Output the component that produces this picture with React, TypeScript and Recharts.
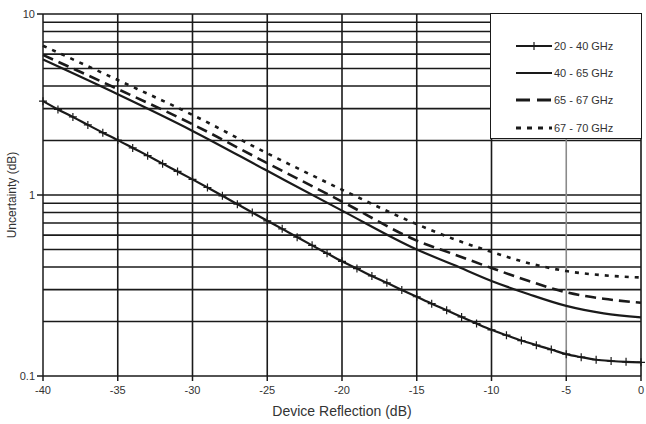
import React from 'react';
import { LineChart, Line, XAxis, YAxis, ReferenceLine, Label } from 'recharts';

// Device reflection (dB) for the marked 20-40 GHz curve (one marker per dB)
const reflectionDb = [
  -40, -39, -38, -37, -36, -35, -34, -33, -32, -31, -30, -29, -28, -27, -26, -25, -24, -23, -22, -21,
  -20, -19, -18, -17, -16, -15, -14, -13, -12, -11, -10, -9, -8, -7, -6, -5, -4, -3, -2, -1, 0,
];
const band20to40 = [
  3.3, 2.97, 2.7, 2.44, 2.21, 2.01, 1.82, 1.65, 1.49, 1.35, 1.22, 1.1, 0.99, 0.89, 0.8, 0.72, 0.65,
  0.585, 0.527, 0.476, 0.43, 0.392, 0.357, 0.327, 0.299, 0.274, 0.251, 0.231, 0.212, 0.195, 0.18,
  0.168, 0.157, 0.148, 0.14, 0.132, 0.127, 0.123, 0.121, 0.1197, 0.119,
];

// Reflection (dB) for the unmarked curves
const coarseDb = [-40, -35, -30, -25, -20, -15, -12.5, -10, -7.5, -5, -2.5, 0];
const band40to65 = [5.6, 3.6, 2.26, 1.36, 0.82, 0.5, 0.41, 0.335, 0.283, 0.244, 0.222, 0.211];
const band65to67 = [5.94, 3.85, 2.46, 1.5, 0.92, 0.56, 0.47, 0.395, 0.335, 0.29, 0.267, 0.254];
const band67to70 = [6.68, 4.32, 2.77, 1.7, 1.07, 0.69, 0.57, 0.485, 0.42, 0.38, 0.36, 0.35];

const seriesNames = ['20 - 40 GHz', '40 - 65 GHz', '65 - 67 GHz', '67 - 70 GHz'];

const xTicks = [-40, -35, -30, -25, -20, -15, -10, -5, 0];
const yTicks = [0.1, 1, 10];
const yGridValues = [
  0.2, 0.3, 0.4, 0.5, 0.6, 0.7, 0.8, 0.9, 1, 2, 3, 4, 5, 6, 7, 8, 9, 10,
];
const xGridValues = [-35, -30, -25, -20, -15, -10, -5, 0];
const lightGridX = [-5];

const data20 = reflectionDb.map((x, i) => ({ x, y: band20to40[i] }));
const data40 = coarseDb.map((x, i) => ({ x, y: band40to65[i] }));
const data65 = coarseDb.map((x, i) => ({ x, y: band65to67[i] }));
const data67 = coarseDb.map((x, i) => ({ x, y: band67to70[i] }));

const FONT = '"Liberation Sans", Arial, sans-serif';
const INK = '#1a1a1a';

const PlusDot = (props: any) => {
  const { cx, cy, index } = props;
  if (cx == null || cy == null) return <g key={`pd-${index}`} />;
  return (
    <path
      key={`pd-${index}`}
      d={`M${cx - 4},${cy}h8M${cx},${cy - 4}v8`}
      stroke={INK}
      strokeWidth={1.2}
      fill="none"
    />
  );
};

const legendStyles = [
  { dash: undefined, marker: true, width: 2 },
  { dash: undefined, marker: false, width: 2 },
  { dash: '14 7', marker: false, width: 3 },
  { dash: '5 6', marker: false, width: 3 },
];

export default function App() {
  return (
    <div
      style={{
        position: 'fixed',
        left: 0,
        top: 0,
        width: 646,
        height: 424,
        overflow: 'hidden',
        background: '#fff',
      }}
    >
      <LineChart width={646} height={424} margin={{ top: 14, right: 5, bottom: 0, left: 0 }}>
        <XAxis
          dataKey="x"
          type="number"
          domain={[-40, 0]}
          ticks={xTicks}
          interval={0}
          allowDuplicatedCategory={false}
          height={48}
          tickSize={5}
          tickMargin={5}
          stroke={INK}
          strokeWidth={1.5}
          tick={{ fontSize: 11, fill: '#333', fontFamily: FONT }}
        >
          <Label
            content={(p: any) => {
              const vb = p.viewBox || {};
              const cx = (vb.x || 0) + (vb.width || 0) / 2;
              const by = (vb.y || 0) + 40;
              return (
                <text
                  x={cx}
                  y={by}
                  textAnchor="middle"
                  style={{ fontSize: 14, fill: '#333', fontFamily: FONT }}
                >
                  Device Reflection (dB)
                </text>
              );
            }}
          />
        </XAxis>
        <YAxis
          type="number"
          scale="log"
          domain={[0.1, 10]}
          ticks={yTicks}
          interval={0}
          allowDataOverflow
          width={43}
          tickSize={6}
          tickMargin={2}
          stroke={INK}
          strokeWidth={1.5}
          tick={{ fontSize: 11, fill: '#333', fontFamily: FONT }}
          tickFormatter={(v: number) => String(v)}
        >
          <Label
            content={(p: any) => {
              const vb = p.viewBox || {};
              const cy = (vb.y || 0) + (vb.height || 0) / 2;
              return (
                <text
                  x={12}
                  y={cy}
                  transform={`rotate(-90, 12, ${cy})`}
                  textAnchor="middle"
                  dominantBaseline="central"
                  style={{ fontSize: 12, fill: '#333', fontFamily: FONT }}
                >
                  Uncertainty (dB)
                </text>
              );
            }}
          />
        </YAxis>
        {yGridValues.map((v) => (
          <ReferenceLine key={`gy-${v}`} y={v} stroke={INK} strokeWidth={1.6} />
        ))}
        {xGridValues.map((v) => (
          <ReferenceLine
            key={`gx-${v}`}
            x={v}
            stroke={lightGridX.includes(v) ? '#8a8a8a' : INK}
            strokeWidth={1.6}
          />
        ))}
        <Line
          data={data20}
          dataKey="y"
          type="monotone"
          stroke={INK}
          strokeWidth={2.2}
          dot={PlusDot}
          isAnimationActive={false}
          name={seriesNames[0]}
        />
        <Line
          data={data40}
          dataKey="y"
          type="monotone"
          stroke={INK}
          strokeWidth={2.2}
          dot={false}
          isAnimationActive={false}
          name={seriesNames[1]}
        />
        <Line
          data={data65}
          dataKey="y"
          type="monotone"
          stroke={INK}
          strokeWidth={2.6}
          strokeDasharray="11 6"
          dot={false}
          isAnimationActive={false}
          name={seriesNames[2]}
        />
        <Line
          data={data67}
          dataKey="y"
          type="monotone"
          stroke={INK}
          strokeWidth={2.6}
          strokeDasharray="4 6"
          dot={false}
          isAnimationActive={false}
          name={seriesNames[3]}
        />
      </LineChart>
      <div
        style={{
          position: 'absolute',
          left: 490,
          top: 13,
          width: 152,
          height: 126,
          boxSizing: 'border-box',
          border: `1.5px solid ${INK}`,
          background: '#fff',
          fontFamily: FONT,
          fontSize: 11,
          color: '#333',
        }}
      >
        {seriesNames.map((name, i) => {
          const st = legendStyles[i];
          return (
            <div
              key={name}
              style={{
                position: 'absolute',
                left: 24,
                top: 24 + i * 27.2,
                height: 16,
                display: 'flex',
                alignItems: 'center',
                whiteSpace: 'nowrap',
              }}
            >
              <svg width={38} height={16} style={{ display: 'block' }}>
                <line
                  x1={1}
                  y1={8}
                  x2={37}
                  y2={8}
                  stroke={INK}
                  strokeWidth={st.width}
                  strokeDasharray={st.dash}
                />
                {st.marker && <line x1={19} y1={4} x2={19} y2={12} stroke={INK} strokeWidth={1.2} />}
              </svg>
              <span style={{ marginLeft: 1 }}>{name}</span>
            </div>
          );
        })}
      </div>
    </div>
  );
}
